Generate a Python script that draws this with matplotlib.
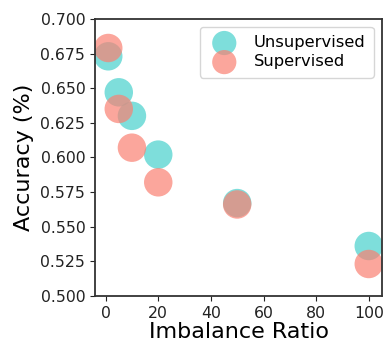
import matplotlib
matplotlib.use("Agg")
import matplotlib.pyplot as plt

ratios = [1, 5, 10, 20, 50, 100]
unsup_acc = [0.673, 0.647, 0.630, 0.602, 0.567, 0.536]
sup_acc = [0.679, 0.635, 0.607, 0.582, 0.566, 0.523]

fig, ax = plt.subplots(figsize=(3.85, 3.44), dpi=100)
fig.subplots_adjust(left=0.247, right=0.992, top=0.945, bottom=0.14)

ax.scatter(ratios, unsup_acc, s=420, color="mediumturquoise", alpha=0.7,
           edgecolors="none", label="Unsupervised")
ax.scatter(ratios, sup_acc, s=420, color="salmon", alpha=0.7,
           edgecolors="none", label="Supervised")

ax.set_xlim(-4, 105)
ax.set_ylim(0.5, 0.7)
ax.set_xticks([0, 20, 40, 60, 80, 100])
ax.set_yticks([0.5, 0.525, 0.55, 0.575, 0.6, 0.625, 0.65, 0.675, 0.7])
ax.yaxis.set_major_formatter(matplotlib.ticker.FormatStrFormatter("%.3f"))
ax.tick_params(labelsize=11.3, colors="#222222")
ax.set_xlabel("Imbalance Ratio", fontsize=16, labelpad=1)
ax.set_ylabel("Accuracy (%)", fontsize=16, labelpad=5)
for sp in ax.spines.values():
    sp.set_color("#333333")
    sp.set_linewidth(1.3)

ax.legend(loc="upper right", fontsize=11.8, markerscale=0.85,
          handletextpad=0.8, borderpad=0.5, labelspacing=0.25)

fig.savefig("out.png", dpi=100)
